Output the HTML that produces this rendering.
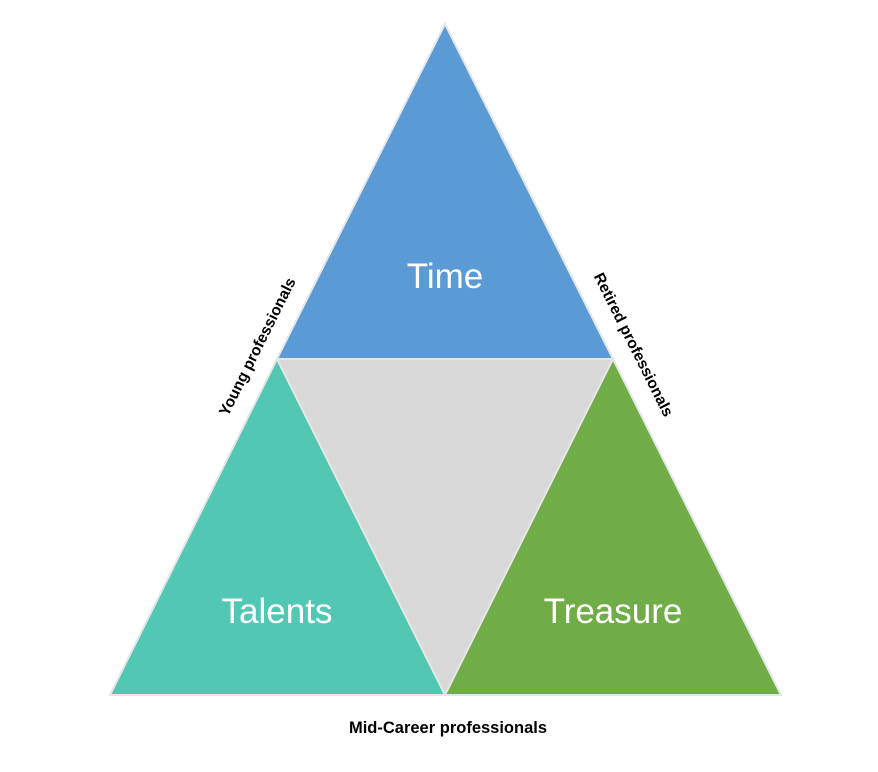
<!DOCTYPE html>
<html><head><meta charset="utf-8"><style>
html,body{margin:0;padding:0;background:#fff;width:878px;height:772px;overflow:hidden}
svg{display:block}
</style></head><body>
<svg width="878" height="772" viewBox="0 0 878 772" xmlns="http://www.w3.org/2000/svg" font-family="Liberation Sans, sans-serif">
<g stroke="#e6e6e6" stroke-width="2" stroke-linejoin="miter">
<polygon points="277,359 613,359 445,695" fill="#d9d9d9"/>
<polygon points="445,24 613,359 277,359" fill="#5b9bd5"/>
<polygon points="277,359 445,695 110,695" fill="#52c8b4"/>
<polygon points="613,359 781,695 445,695" fill="#70ad47"/>
</g>
<g fill="#fff" font-size="35" text-anchor="middle">
<text x="445" y="288">Time</text>
<text x="277" y="623">Talents</text>
<text x="613" y="623">Treasure</text>
</g>
<g fill="#000" font-size="15.5" font-weight="bold" text-anchor="middle">
<text transform="translate(262,349) rotate(-63.4)">Young professionals</text>
<text transform="translate(629,347) rotate(63.4)">Retired professionals</text>
<text x="448" y="733" font-size="16.5">Mid-Career professionals</text>
</g>
</svg>
</body></html>
